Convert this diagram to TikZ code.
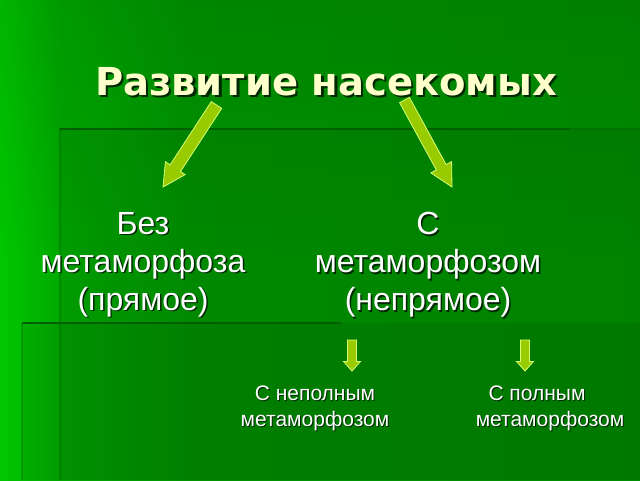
\documentclass[tikz,border=0pt]{standalone}
\usepackage{fontspec}
\setmainfont{Liberation Sans}
\newfontfamily\titlefont{DejaVu Sans}
\usetikzlibrary{calc,fadings}
\definecolor{arrowfill}{RGB}{153,204,0}
\definecolor{arrowline}{RGB}{214,255,120}
\definecolor{titlecol}{RGB}{255,255,204}
\definecolor{edgecol}{RGB}{0,95,0}
\definecolor{shadowcol}{RGB}{0,40,0}
\pgfdeclarehorizontalshading{bgshade}{100bp}{rgb(0bp)=(0,0.78,0); rgb(25bp)=(0,0.78,0); rgb(26.75bp)=(0,0.74,0); rgb(29.7bp)=(0,0.66,0); rgb(40bp)=(0,0.58,0); rgb(75bp)=(0,0.55,0); rgb(100bp)=(0,0.55,0)}
\newcommand\shd[2][1.5pt]{\makebox[0pt][l]{\kern#1\raisebox{-#1}{\color{shadowcol}#2}}#2}
\newcommand\blockarrow[5]{%
  \coordinate (hb) at ($(#2)!#5!(#1)$);
  \draw[blockarrowstyle] ($(#1)!#3!90:(#2)$) -- ($(hb)!#3!90:(#2)$) -- ($(hb)!#4!90:(#2)$) -- (#2)
     -- ($(hb)!#4!-90:(#2)$) -- ($(hb)!#3!-90:(#2)$) -- ($(#1)!#3!-90:(#2)$) -- cycle;}
\tikzset{
  blockarrowstyle/.style={fill=arrowfill, draw=arrowline, line width=0.8pt, line join=miter},
  titletext/.style={text=titlecol, font=\titlefont\bfseries\fontsize{38.5}{44}\selectfont, inner sep=0pt},
  bigtext/.style={text=white, align=center, font=\fontsize{32}{38}\selectfont, inner sep=0pt},
  smalltext/.style={text=white, align=center, font=\fontsize{21}{26}\selectfont, inner sep=0pt},
  paneledge/.style={edgecol, line width=2pt},
}
\begin{document}
\begin{tikzpicture}[x=1pt,y=-1pt]
\useasboundingbox (0,0) rectangle (640,480);
% background
\shade[shading=bgshade] (0,0) rectangle (640,480);
\fill[black, opacity=0.09, path fading=south] (0,0) rectangle (640,260);
% panels
\fill[black, opacity=0.07] (60,128) rectangle (640,480);
\fill[black, opacity=0.07] (22,323) rectangle (640,480);
\draw[paneledge] (60,129) -- (570,129);
\draw[paneledge, opacity=0.25] (570,129) -- (640,129);
\draw[paneledge, opacity=0.35] (60,128) -- (60,480);
\draw[paneledge] (22,323) -- (341,323);
\draw[paneledge, opacity=0.35] (22,323) -- (22,480);
% title
\node[titletext, anchor=base] (title) at (326,95) {\shd[2.5pt]{Развитие насекомых}};
% arrows
\coordinate (a1s) at (216.5,105);
\coordinate (a1e) at (163,187);
\coordinate (a2s) at (404.5,100);
\coordinate (a2e) at (452,187);
\coordinate (a3s) at (352,340);
\coordinate (a3e) at (352,371);
\coordinate (a4s) at (525,340);
\coordinate (a4e) at (525,371);
\blockarrow{a1s}{a1e}{6.2pt}{11.8pt}{22.5pt}
\blockarrow{a2s}{a2e}{5.6pt}{11.8pt}{22.5pt}
\blockarrow{a3s}{a3e}{4.5pt}{8.5pt}{9.5pt}
\blockarrow{a4s}{a4e}{4.5pt}{8.5pt}{9.5pt}
% texts
\node[bigtext, anchor=north] (direct) at (143,212) {\shd{Без}\\\shd{метаморфоза}\\\shd{(прямое)}};
\node[bigtext, anchor=north] (indirect) at (428,212) {\shd{С}\\\shd{метаморфозом}\\\shd{(непрямое)}};
\node[smalltext, anchor=north] (incomplete) at (315,386) {\shd[1pt]{С неполным}\\\shd[1pt]{метаморфозом}};
\node[smalltext, anchor=north] (complete) at (550,386) {\shd[1pt]{С полным}\hspace*{26pt}\\\shd[1pt]{метаморфозом}};
\end{tikzpicture}
\end{document}
